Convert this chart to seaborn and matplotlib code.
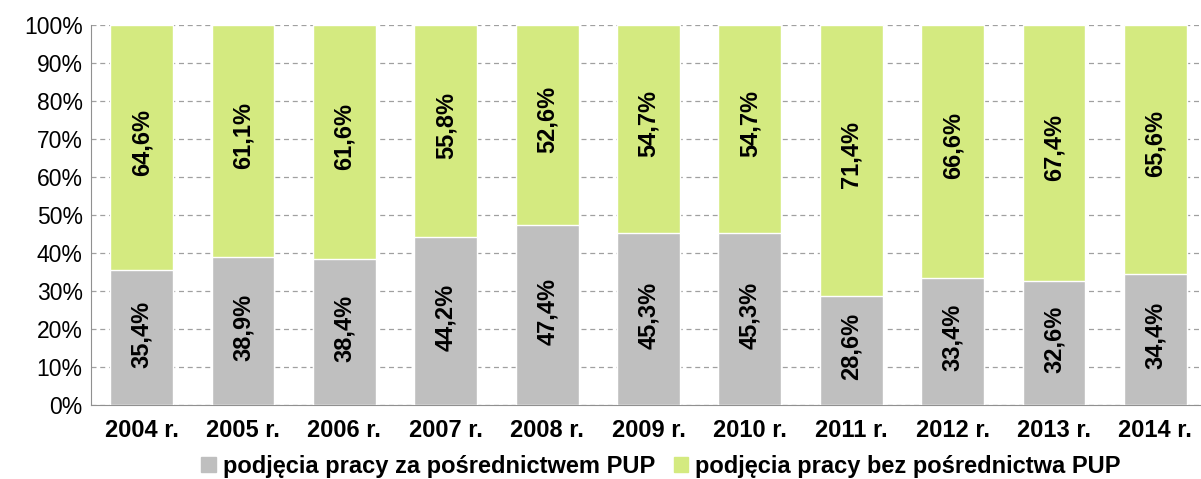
import matplotlib
matplotlib.use("Agg")
import pandas as pd
import matplotlib.pyplot as plt
import seaborn as sns
from matplotlib.patches import Patch

years = ["2004 r.", "2005 r.", "2006 r.", "2007 r.", "2008 r.", "2009 r.",
         "2010 r.", "2011 r.", "2012 r.", "2013 r.", "2014 r."]
z_pup = [35.4, 38.9, 38.4, 44.2, 47.4, 45.3, 45.3, 28.6, 33.4, 32.6, 34.4]
bez_pup = [64.6, 61.1, 61.6, 55.8, 52.6, 54.7, 54.7, 71.4, 66.6, 67.4, 65.6]

df = pd.DataFrame({"rok": years, "z": z_pup, "bez": bez_pup})
df["total"] = df["z"] + df["bez"]

grey = "#BFBFBF"
green = "#D4EA80"

sns.set_style("white")
plt.rcParams["font.family"] = ["Liberation Sans", "DejaVu Sans"]
plt.rcParams["text.color"] = "black"
plt.rcParams["xtick.color"] = "black"
plt.rcParams["ytick.color"] = "black"

fig = plt.figure(figsize=(12.01, 4.79), dpi=100)
ax = fig.add_axes([91 / 1201, 1 - 405 / 479, 1110 / 1201, 380 / 479])

# stacked bars: total in green, bottom part in grey on top of it
sns.barplot(data=df, x="rok", y="total", color=green, width=0.62,
            saturation=1, ax=ax, zorder=2)
sns.barplot(data=df, x="rok", y="z", color=grey, width=0.62,
            saturation=1, ax=ax, zorder=3)

def fmt(v):
    return f"{v:.1f}%".replace(".", ",")

for i in range(len(years)):
    ax.text(i, z_pup[i] / 2 + 1, fmt(z_pup[i]), rotation=90, ha="center",
            va="center", fontsize=17, fontweight="bold", zorder=4)
    ax.text(i, z_pup[i] + bez_pup[i] / 2 + 1.5, fmt(bez_pup[i]), rotation=90,
            ha="center", va="center", fontsize=17, fontweight="bold", zorder=4)

ax.set_ylim(0, 100)
ax.set_xlim(-0.5, 10.45)
ax.set_yticks(range(0, 101, 10))
ax.set_yticklabels([f"{t}%" for t in range(0, 101, 10)], fontsize=16.5)
ax.set_xticklabels(years, fontsize=17, fontweight="bold")
ax.tick_params(axis="both", length=0)
ax.tick_params(axis="y", pad=6)
ax.tick_params(axis="x", pad=10)
ax.set_xlabel("")
ax.set_ylabel("")
ax.yaxis.grid(True, linestyle=(0, (4, 3)), color="#A0A0A0", linewidth=0.9, zorder=0)
ax.set_axisbelow(True)

for s in ["top", "right"]:
    ax.spines[s].set_visible(False)
ax.spines["left"].set_color("#909090")
ax.spines["bottom"].set_color("#909090")

handles = [Patch(color=grey, label="podjęcia pracy za pośrednictwem PUP"),
           Patch(color=green, label="podjęcia pracy bez pośrednictwa PUP")]
fig.legend(handles=handles, loc="center", bbox_to_anchor=(661 / 1201, 1 - 466 / 479),
           ncol=2, frameon=False, prop={"size": 17, "weight": "bold"},
           handlelength=0.6, handleheight=0.6, handletextpad=0.3, columnspacing=0.8)

fig.savefig("out.png", dpi=100)
